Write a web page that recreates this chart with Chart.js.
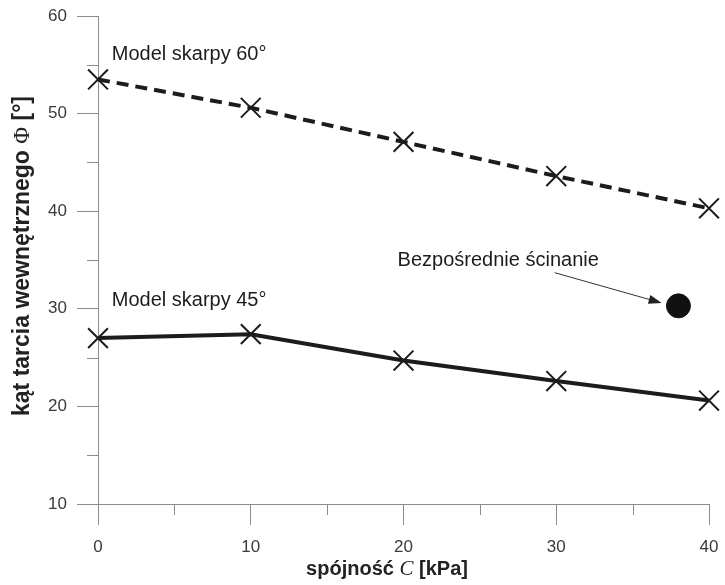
<!DOCTYPE html>
<html>
<head>
<meta charset="utf-8">
<script src="https://cdn.jsdelivr.net/npm/chart.js@4"></script>
<style>
  html, body { margin: 0; padding: 0; background: #fff; }
  #wrap { position: relative; width: 725px; height: 585px; }
</style>
</head>
<body>
<div id="wrap"><canvas id="chart"></canvas></div>
<script>
// data
const cohesion = [0, 10, 20, 30, 40];
const slope60 = [53.5, 50.6, 47.1, 43.6, 40.3];
const slope45 = [27.0, 27.4, 24.7, 22.6, 20.6];
const shearC = [38.0];
const shearPhi = [30.3];
const xMajor = [0, 10, 20, 30, 40];
const yMajor = [10, 20, 30, 40, 50, 60];

const SANS = '"Liberation Sans", Arial, sans-serif';
const SERIF = '"Liberation Serif", "Times New Roman", serif';
const INK = '#1c1c1c';
const AXIS = '#8c8c8c';

const toPoints = (xs, ys) => xs.map((x, i) => ({ x: x, y: ys[i] }));

// text notes, placed in data units
const notes = [
  { text: 'Model skarpy 60°', x: 0.9, y: 56.1, align: 'left' },
  { text: 'Model skarpy 45°', x: 0.9, y: 30.9, align: 'left' },
  { text: 'Bezpośrednie ścinanie', x: 26.2, y: 35.0, align: 'center' }
];
const arrow = { from: { x: 29.9, y: 33.7 }, to: { x: 36.9, y: 30.6 } };

const isMajor = v => v % 10 === 0;

const extras = {
  id: 'extras',
  afterDraw(chart) {
    const { ctx, chartArea: a, scales: { x, y } } = chart;
    ctx.save();
    // minor ticks
    ctx.strokeStyle = AXIS;
    ctx.lineWidth = 1;
    ctx.beginPath();
    for (let v = 5; v < 40; v += 10) {
      const px = Math.round(x.getPixelForValue(v)) + 0.5;
      ctx.moveTo(px, a.bottom); ctx.lineTo(px, a.bottom + 11);
    }
    for (let v = 15; v < 60; v += 10) {
      const py = Math.round(y.getPixelForValue(v)) + 0.5;
      ctx.moveTo(a.left - 11, py); ctx.lineTo(a.left, py);
    }
    ctx.stroke();

    // notes
    ctx.fillStyle = INK;
    ctx.font = '20px ' + SANS;
    ctx.textBaseline = 'middle';
    notes.forEach(n => {
      ctx.textAlign = n.align;
      ctx.fillText(n.text, x.getPixelForValue(n.x), y.getPixelForValue(n.y));
    });

    // arrow
    const x1 = x.getPixelForValue(arrow.from.x), y1 = y.getPixelForValue(arrow.from.y);
    const x2 = x.getPixelForValue(arrow.to.x), y2 = y.getPixelForValue(arrow.to.y);
    const ang = Math.atan2(y2 - y1, x2 - x1);
    ctx.strokeStyle = '#333';
    ctx.lineWidth = 1;
    ctx.beginPath();
    ctx.moveTo(x1, y1);
    ctx.lineTo(x2 - 10 * Math.cos(ang), y2 - 10 * Math.sin(ang));
    ctx.stroke();
    ctx.fillStyle = '#222';
    ctx.beginPath();
    ctx.moveTo(x2, y2);
    ctx.lineTo(x2 - 13 * Math.cos(ang) + 4.5 * Math.sin(ang), y2 - 13 * Math.sin(ang) - 4.5 * Math.cos(ang));
    ctx.lineTo(x2 - 13 * Math.cos(ang) - 4.5 * Math.sin(ang), y2 - 13 * Math.sin(ang) + 4.5 * Math.cos(ang));
    ctx.closePath();
    ctx.fill();

    // axis titles with mixed fonts
    const drawRuns = (runs, startX, startY) => {
      let cx = startX;
      runs.forEach(r => {
        ctx.font = r.font;
        ctx.fillText(r.text, cx, startY);
        cx += ctx.measureText(r.text).width;
      });
    };
    const measureRuns = runs => runs.reduce((w, r) => { ctx.font = r.font; return w + ctx.measureText(r.text).width; }, 0);

    ctx.fillStyle = '#222';
    ctx.textAlign = 'left';
    ctx.textBaseline = 'alphabetic';
    const xRuns = [
      { text: 'spójność ', font: 'bold 20px ' + SANS },
      { text: 'C', font: 'italic 21px ' + SERIF },
      { text: ' [kPa]', font: 'bold 20px ' + SANS }
    ];
    const xw = measureRuns(xRuns);
    drawRuns(xRuns, 387 - xw / 2, 575);

    const yRuns = [
      { text: 'kąt tarcia wewnętrznego ', font: 'bold 23px ' + SANS },
      { text: 'Φ', font: '23px ' + SERIF },
      { text: ' [°]', font: 'bold 23px ' + SANS }
    ];
    const yw = measureRuns(yRuns);
    ctx.translate(29, 256 + yw / 2);
    ctx.rotate(-Math.PI / 2);
    drawRuns(yRuns, 0, 0);
    ctx.restore();
  }
};

new Chart(document.getElementById('chart'), {
  type: 'scatter',
  data: {
    datasets: [
      {
        label: 'Model skarpy 60°',
        data: toPoints(cohesion, slope60),
        showLine: true,
        borderColor: INK,
        borderWidth: 4,
        borderDash: [12, 7],
        pointStyle: 'crossRot',
        pointRadius: 14,
        pointBorderWidth: 2,
        pointBorderColor: INK,
        clip: false
      },
      {
        label: 'Model skarpy 45°',
        data: toPoints(cohesion, slope45),
        showLine: true,
        borderColor: INK,
        borderWidth: 4,
        pointStyle: 'crossRot',
        pointRadius: 14,
        pointBorderWidth: 2,
        pointBorderColor: INK,
        clip: false
      },
      {
        label: 'Bezpośrednie ścinanie',
        data: toPoints(shearC, shearPhi),
        pointStyle: 'circle',
        pointRadius: 12,
        backgroundColor: '#111',
        borderColor: '#111',
        clip: false
      }
    ]
  },
  options: {
    responsive: true,
    maintainAspectRatio: false,
    animation: false,
    layout: { padding: { top: 15, right: 12, left: 0, bottom: 0 } },
    plugins: { legend: { display: false }, tooltip: { enabled: false } },
    scales: {
      x: {
        type: 'linear',
        min: xMajor[0],
        max: xMajor[xMajor.length - 1],
        afterFit: s => { s.height = 81; s.paddingLeft = 0; s.paddingRight = 0; },
        border: { color: AXIS, width: 1 },
        grid: {
          drawOnChartArea: false,
          tickLength: 21,
          tickColor: c => isMajor(c.tick.value) ? AXIS : 'rgba(0,0,0,0)'
        },
        ticks: {
          stepSize: 5,
          autoSkip: false,
          maxRotation: 0,
          padding: 12,
          color: '#3a3a3a',
          font: { family: SANS, size: 17 },
          callback: v => xMajor.includes(v) ? String(v) : ''
        }
      },
      y: {
        type: 'linear',
        min: yMajor[0],
        max: yMajor[yMajor.length - 1],
        afterFit: s => { s.width = 98; s.paddingTop = 0; s.paddingBottom = 0; },
        border: { color: AXIS, width: 1 },
        grid: {
          drawOnChartArea: false,
          tickLength: 21,
          tickColor: c => isMajor(c.tick.value) ? AXIS : 'rgba(0,0,0,0)'
        },
        ticks: {
          stepSize: 5,
          autoSkip: false,
          padding: 10,
          color: '#3a3a3a',
          font: { family: SANS, size: 17 },
          callback: v => yMajor.includes(v) ? String(v) : ''
        }
      }
    }
  },
  plugins: [extras]
});
</script>
</body>
</html>
